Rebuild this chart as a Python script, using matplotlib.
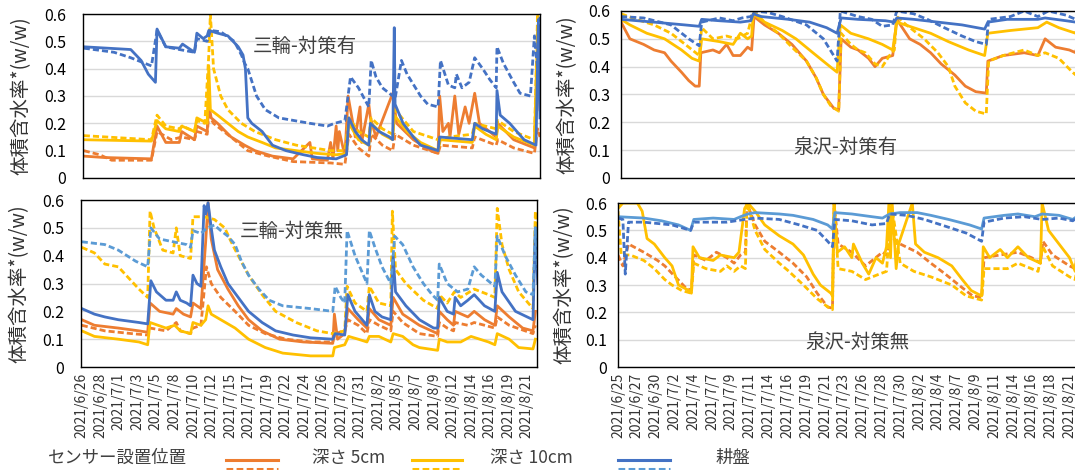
import matplotlib
matplotlib.use("Agg")
import matplotlib.pyplot as plt
from matplotlib.lines import Line2D

plt.rcParams['font.family'] = ['Noto Sans CJK JP', 'DejaVu Sans']

# x = days from first tick label; tick labels every 7/3 day
labels_miwa = ["2021/6/26", "2021/6/28", "2021/7/1", "2021/7/3", "2021/7/5", "2021/7/8",
               "2021/7/10", "2021/7/12", "2021/7/15", "2021/7/17", "2021/7/19", "2021/7/22",
               "2021/7/24", "2021/7/26", "2021/7/29", "2021/7/31", "2021/8/2", "2021/8/5",
               "2021/8/7", "2021/8/9", "2021/8/12", "2021/8/14", "2021/8/16", "2021/8/19",
               "2021/8/21"]
labels_izumi = ["2021/6/25", "2021/6/27", "2021/6/30", "2021/7/2", "2021/7/4", "2021/7/7",
                "2021/7/9", "2021/7/11", "2021/7/14", "2021/7/16", "2021/7/19", "2021/7/21",
                "2021/7/23", "2021/7/26", "2021/7/28", "2021/7/30", "2021/8/2", "2021/8/4",
                "2021/8/7", "2021/8/9", "2021/8/11", "2021/8/14", "2021/8/16", "2021/8/18",
                "2021/8/21"]

# ---- 三輪-対策有 ----
m1_sk_d = [0, 5.9, 7.2, 8.1, 9.0, 9.2, 10.3, 12.0, 12.4, 13.9, 14.2, 15.0, 15.5, 15.7, 16.8, 18.1,
           19.4, 20.0, 20.3, 20.6, 21.1, 22.4, 23.7, 25.4, 27.6, 29.3, 31.7, 33.0, 33.3, 34.1, 34.9,
           35.8, 36.0, 37.1, 38.4, 38.8, 39.0, 39.1, 40.1, 41.4, 42.3, 44.5, 44.7, 48.8, 49.1, 50.1,
           51.8, 51.9, 52.3, 53.5, 55.3, 56.8, 57.1, 57.3]
m1_sk_v = [0.48, 0.47, 0.43, 0.38, 0.35, 0.545, 0.48, 0.475, 0.49, 0.46, 0.53, 0.51, 0.52, 0.54, 0.53, 0.52,
           0.48, 0.45, 0.40, 0.22, 0.20, 0.17, 0.12, 0.10, 0.085, 0.075, 0.07, 0.085, 0.22, 0.17, 0.14,
           0.12, 0.20, 0.17, 0.15, 0.14, 0.55, 0.27, 0.20, 0.15, 0.12, 0.10, 0.15, 0.14, 0.20, 0.18,
           0.16, 0.32, 0.23, 0.20, 0.14, 0.12, 0.58, 0.22]
m1_dk_d = [0, 3.8, 5.9, 8.5, 9.2, 10.3, 12.0, 13.9, 14.2, 15.5, 15.9, 17.2, 18.9, 19.8, 20.2, 20.6,
           21.7, 22.8, 24.5, 28.4, 30.6, 31.5, 32.8, 33.5, 34.5, 35.8, 36.1, 36.7, 37.5, 38.8, 39.1,
           39.9, 40.6, 42.3, 43.2, 44.5, 44.8, 45.8, 46.6, 46.8, 47.5, 48.4, 49.1, 50.1, 51.0, 51.8,
           51.9, 52.7, 54.0, 54.8, 56.1, 56.6, 57.0, 57.3]
m1_dk_v = [0.475, 0.46, 0.44, 0.41, 0.54, 0.48, 0.47, 0.46, 0.51, 0.50, 0.54, 0.535, 0.50, 0.45, 0.42, 0.40,
           0.30, 0.25, 0.22, 0.20, 0.19, 0.20, 0.21, 0.37, 0.33, 0.26, 0.43, 0.37, 0.33, 0.30, 0.29,
           0.43, 0.38, 0.30, 0.27, 0.26, 0.43, 0.34, 0.33, 0.38, 0.33, 0.35, 0.44, 0.40, 0.36, 0.33,
           0.48, 0.42, 0.35, 0.31, 0.30, 0.52, 0.40, 0.59]
m1_s10_d = [0, 8.5, 9.2, 10.3, 12.0, 12.3, 13.9, 14.2, 15.5, 15.7, 15.9, 16.8, 18.1, 19.4, 20.6, 22.4,
            24.1, 26.7, 29.3, 31.7, 33.0, 33.3, 34.5, 35.8, 36.1, 37.5, 38.8, 39.0, 40.6, 42.3, 44.5,
            44.8, 48.8, 49.1, 50.5, 51.8, 52.0, 54.0, 56.6, 57.0, 57.3]
m1_s10_v = [0.14, 0.135, 0.21, 0.18, 0.17, 0.19, 0.17, 0.22, 0.20, 0.41, 0.25, 0.23, 0.20, 0.17, 0.15, 0.13,
            0.11, 0.10, 0.09, 0.085, 0.09, 0.20, 0.14, 0.12, 0.20, 0.16, 0.14, 0.23, 0.17, 0.13, 0.10,
            0.14, 0.13, 0.19, 0.16, 0.14, 0.19, 0.15, 0.12, 0.55, 0.30]
m1_d10_d = [0, 8.5, 9.2, 10.3, 12.0, 12.4, 13.9, 14.2, 15.2, 15.7, 15.9, 16.3, 17.2, 18.1, 19.8, 21.5,
            24.1, 26.7, 31.0, 32.8, 33.3, 34.5, 35.8, 36.1, 37.5, 38.8, 39.1, 41.4, 44.5, 45.8, 48.8,
            49.1, 51.8, 52.0, 54.0, 56.6, 57.0, 57.3]
m1_d10_v = [0.155, 0.14, 0.23, 0.19, 0.18, 0.19, 0.17, 0.21, 0.20, 0.45, 0.60, 0.40, 0.30, 0.25, 0.20, 0.17,
            0.14, 0.12, 0.10, 0.10, 0.22, 0.17, 0.15, 0.22, 0.18, 0.16, 0.25, 0.17, 0.14, 0.15, 0.16,
            0.20, 0.18, 0.21, 0.17, 0.14, 0.60, 0.45]
m1_s5_d = [0, 2.5, 8.5, 9.2, 10.3, 12.0, 12.3, 13.9, 14.2, 15.5, 15.7, 16.0, 16.8, 18.5, 20.2, 21.5,
           23.7, 26.3, 28.4, 28.7, 30.6, 31.0, 31.3, 31.7, 31.9, 32.1, 32.8, 33.2, 34.1, 34.7, 34.9,
           35.8, 36.0, 36.7, 38.8, 39.3, 41.4, 43.6, 44.5, 44.7, 45.1, 45.8, 46.0, 46.6, 47.1, 47.9,
           48.4, 49.1, 49.7, 51.8, 52.0, 54.0, 56.6, 57.0, 57.3]
m1_s5_v = [0.08, 0.075, 0.07, 0.19, 0.13, 0.13, 0.17, 0.14, 0.19, 0.17, 0.27, 0.22, 0.20, 0.15, 0.12, 0.10,
           0.08, 0.07, 0.13, 0.07, 0.065, 0.13, 0.07, 0.19, 0.10, 0.17, 0.08, 0.30, 0.15, 0.26, 0.13,
           0.27, 0.22, 0.15, 0.31, 0.20, 0.14, 0.10, 0.09, 0.30, 0.17, 0.20, 0.15, 0.30, 0.16, 0.26,
           0.20, 0.31, 0.20, 0.15, 0.20, 0.14, 0.11, 0.45, 0.25]
m1_d5_d = [0, 2.0, 3.5, 8.5, 9.2, 11.0, 12.3, 13.9, 14.2, 15.5, 15.7, 16.3, 18.9, 20.6, 23.2, 26.3,
           31.0, 32.8, 33.3, 34.5, 35.8, 36.1, 37.5, 38.8, 39.1, 41.4, 44.5, 44.8, 48.8, 49.1, 51.8,
           52.0, 54.0, 56.6, 57.0, 57.3]
m1_d5_v = [0.10, 0.085, 0.065, 0.065, 0.17, 0.14, 0.15, 0.14, 0.17, 0.16, 0.23, 0.20, 0.14, 0.10, 0.08, 0.06,
           0.055, 0.05, 0.16, 0.11, 0.08, 0.16, 0.12, 0.10, 0.16, 0.12, 0.09, 0.12, 0.11, 0.15, 0.12,
           0.14, 0.11, 0.09, 0.18, 0.15]

# ---- 三輪-対策無 ----
m0_sk_d = [0, 1.6, 2.9, 4.6, 7.2, 8.3, 8.7, 9.4, 10.6, 11.5, 11.9, 12.4, 13.2, 13.7, 14.0, 14.5, 15.0,
           15.4, 15.6, 15.9, 16.3, 16.7, 17.5, 18.4, 19.7, 21.0, 22.7, 24.4, 26.6, 28.8, 31.6, 31.9,
           33.1, 33.5, 34.4, 35.6, 35.9, 36.2, 36.9, 37.8, 38.9, 39.2, 39.5, 40.8, 42.5, 44.3, 44.8,
           45.0, 46.0, 46.8, 47.0, 47.7, 48.6, 49.4, 50.7, 52.0, 52.3, 52.9, 54.6, 56.8, 57.1, 57.4]
m0_sk_v = [0.21, 0.19, 0.18, 0.17, 0.16, 0.155, 0.31, 0.27, 0.24, 0.24, 0.27, 0.24, 0.23, 0.22, 0.33, 0.30, 0.29,
           0.58, 0.55, 0.59, 0.50, 0.42, 0.36, 0.30, 0.25, 0.20, 0.16, 0.13, 0.115, 0.105, 0.10, 0.12,
           0.115, 0.26, 0.20, 0.16, 0.15, 0.26, 0.20, 0.18, 0.17, 0.40, 0.27, 0.22, 0.17, 0.14, 0.14,
           0.25, 0.20, 0.19, 0.25, 0.22, 0.24, 0.26, 0.22, 0.20, 0.34, 0.27, 0.20, 0.17, 0.50, 0.30]
m0_dk_d = [0, 2.9, 4.6, 6.8, 8.3, 8.7, 9.8, 11.5, 13.2, 13.7, 14.0, 15.0, 15.8, 16.7, 17.5, 18.4, 19.3,
           20.1, 21.0, 22.3, 23.6, 25.3, 28.8, 31.6, 31.9, 32.6, 33.1, 33.4, 34.4, 35.6, 35.9, 36.2,
           36.9, 37.8, 38.9, 39.4, 40.4, 41.7, 43.0, 44.1, 44.8, 45.0, 46.0, 47.3, 48.6, 49.4, 50.3,
           52.0, 52.3, 53.3, 54.6, 55.9, 56.8, 57.1, 57.4]
m0_dk_v = [0.45, 0.44, 0.42, 0.38, 0.36, 0.50, 0.46, 0.45, 0.44, 0.43, 0.49, 0.48, 0.50, 0.51, 0.49, 0.47, 0.44,
           0.38, 0.33, 0.28, 0.24, 0.22, 0.21, 0.20, 0.29, 0.25, 0.23, 0.49, 0.40, 0.32, 0.30, 0.49,
           0.43, 0.36, 0.30, 0.47, 0.44, 0.36, 0.30, 0.26, 0.24, 0.37, 0.30, 0.27, 0.28, 0.36, 0.33,
           0.29, 0.47, 0.40, 0.33, 0.27, 0.26, 0.50, 0.35]
m0_s10_d = [0, 1.6, 4.6, 7.2, 8.3, 8.6, 10.6, 11.7, 12.4, 13.7, 14.0, 15.0, 15.6, 15.9, 16.3, 17.5,
            19.3, 21.0, 23.1, 25.3, 28.8, 31.6, 31.8, 33.1, 33.6, 34.8, 35.9, 36.2, 37.4, 38.9, 39.2,
            40.4, 41.7, 42.5, 44.8, 45.0, 46.0, 47.7, 49.0, 51.2, 52.0, 52.3, 53.8, 55.0, 56.8, 57.1]
m0_s10_v = [0.13, 0.11, 0.10, 0.09, 0.08, 0.16, 0.14, 0.15, 0.13, 0.12, 0.16, 0.15, 0.17, 0.22, 0.19, 0.17,
            0.14, 0.10, 0.07, 0.05, 0.04, 0.04, 0.07, 0.08, 0.11, 0.10, 0.09, 0.11, 0.11, 0.09, 0.12,
            0.11, 0.08, 0.07, 0.06, 0.10, 0.09, 0.09, 0.11, 0.09, 0.08, 0.12, 0.10, 0.07, 0.065, 0.10]
m0_d10_d = [0, 1.6, 2.9, 4.6, 5.9, 7.2, 8.3, 8.6, 9.1, 10.2, 11.5, 11.9, 12.4, 13.7, 14.0, 15.4, 16.7,
            18.0, 18.8, 19.7, 21.0, 22.7, 24.4, 27.0, 29.6, 31.6, 33.1, 33.4, 34.4, 35.9, 36.2, 37.4,
            38.9, 39.1, 39.5, 40.8, 43.0, 44.8, 45.0, 46.0, 46.9, 47.7, 49.4, 51.2, 52.0, 52.3, 52.9,
            53.8, 55.0, 56.8, 57.1, 57.4]
m0_d10_v = [0.43, 0.41, 0.37, 0.36, 0.32, 0.28, 0.25, 0.56, 0.50, 0.42, 0.41, 0.50, 0.40, 0.39, 0.54, 0.54, 0.53,
            0.50, 0.45, 0.40, 0.33, 0.26, 0.20, 0.16, 0.13, 0.12, 0.13, 0.29, 0.23, 0.20, 0.29, 0.23,
            0.22, 0.56, 0.35, 0.30, 0.24, 0.21, 0.26, 0.23, 0.27, 0.25, 0.28, 0.26, 0.25, 0.57, 0.44,
            0.35, 0.27, 0.21, 0.56, 0.40]
m0_s5_d = [0, 1.6, 4.6, 7.2, 8.3, 8.6, 9.8, 11.5, 11.9, 12.8, 13.7, 14.0, 15.0, 15.6, 15.9, 16.3, 17.1,
           18.4, 19.7, 21.0, 22.7, 24.9, 27.9, 31.6, 31.8, 32.2, 33.1, 33.5, 34.8, 35.9, 36.2, 37.4,
           38.9, 39.2, 40.4, 42.5, 44.8, 45.0, 46.0, 46.8, 47.0, 48.6, 49.4, 50.7, 52.0, 52.3, 53.8,
           55.5, 56.8, 57.1]
m0_s5_v = [0.17, 0.15, 0.14, 0.13, 0.125, 0.23, 0.20, 0.19, 0.21, 0.19, 0.18, 0.23, 0.21, 0.45, 0.59, 0.46, 0.35,
           0.28, 0.22, 0.17, 0.13, 0.10, 0.09, 0.085, 0.19, 0.10, 0.12, 0.21, 0.17, 0.14, 0.21, 0.17,
           0.15, 0.25, 0.19, 0.15, 0.12, 0.20, 0.17, 0.15, 0.20, 0.18, 0.20, 0.17, 0.15, 0.22, 0.18,
           0.14, 0.13, 0.20]
m0_d5_d = [0, 2.9, 6.3, 8.3, 8.6, 10.6, 11.9, 12.4, 13.7, 14.0, 15.0, 15.7, 16.3, 17.5, 19.3, 21.0,
           23.1, 25.7, 28.8, 31.6, 31.9, 33.1, 33.5, 34.8, 35.9, 36.2, 37.4, 38.9, 39.2, 40.4, 42.5,
           44.8, 45.0, 46.0, 46.8, 47.0, 48.6, 49.4, 52.0, 52.3, 53.8, 56.8, 57.1]
m0_d5_v = [0.15, 0.13, 0.12, 0.115, 0.14, 0.13, 0.16, 0.13, 0.12, 0.14, 0.15, 0.36, 0.30, 0.25, 0.20, 0.15,
           0.12, 0.10, 0.09, 0.09, 0.12, 0.13, 0.17, 0.15, 0.12, 0.17, 0.15, 0.13, 0.20, 0.16, 0.12,
           0.11, 0.16, 0.14, 0.13, 0.16, 0.15, 0.16, 0.14, 0.18, 0.15, 0.12, 0.15]

# ---- 泉沢-対策有 ----
i1_sk_d = [0, 4.1, 7.9, 9.7, 10.0, 12.2, 14.8, 16.1, 16.4, 17.4, 20.8, 23.4, 25.5, 26.8, 27.3, 29.4,
           32.8, 33.9, 34.2, 36.3, 39.3, 42.3, 45.1, 45.5, 47.9, 51.7, 52.6, 55.2, 56.4, 56.9, 57.5]
i1_sk_v = [0.57, 0.56, 0.55, 0.545, 0.57, 0.565, 0.56, 0.565, 0.59, 0.58, 0.57, 0.56, 0.54, 0.52, 0.575, 0.57,
           0.565, 0.56, 0.575, 0.57, 0.56, 0.55, 0.535, 0.56, 0.57, 0.57, 0.575, 0.565, 0.56, 0.58, 0.58]
i1_dk_d = [0, 2.8, 6.2, 8.4, 9.7, 10.0, 12.2, 13.9, 15.0, 16.1, 16.4, 18.2, 20.0, 23.0, 25.1, 26.8,
           27.2, 29.4, 31.1, 32.4, 33.7, 34.2, 36.3, 38.0, 40.1, 42.3, 44.0, 45.3, 45.6, 48.3, 50.0,
           51.7, 53.0, 55.2, 56.4, 56.9, 57.5]
i1_dk_v = [0.58, 0.575, 0.55, 0.50, 0.475, 0.56, 0.575, 0.565, 0.575, 0.58, 0.60, 0.595, 0.58, 0.55, 0.50, 0.42,
           0.60, 0.58, 0.57, 0.545, 0.55, 0.60, 0.59, 0.57, 0.54, 0.51, 0.49, 0.48, 0.57, 0.58, 0.60,
           0.58, 0.60, 0.585, 0.57, 0.60, 0.59]
i1_s10_d = [0, 1.1, 3.2, 5.4, 7.5, 8.8, 9.7, 10.0, 12.2, 13.9, 14.8, 15.7, 16.2, 16.4, 17.8, 20.0,
            21.7, 23.8, 25.5, 26.8, 27.2, 28.5, 30.7, 32.4, 33.7, 34.2, 36.3, 38.4, 40.6, 43.1, 45.1,
            45.5, 48.3, 51.7, 52.8, 54.3, 56.4, 56.9, 57.5]
i1_s10_v = [0.57, 0.55, 0.52, 0.50, 0.46, 0.43, 0.42, 0.50, 0.49, 0.48, 0.52, 0.50, 0.51, 0.59, 0.56, 0.53,
            0.50, 0.45, 0.41, 0.38, 0.55, 0.52, 0.50, 0.48, 0.46, 0.56, 0.54, 0.52, 0.49, 0.46, 0.44,
            0.52, 0.53, 0.54, 0.56, 0.54, 0.52, 0.57, 0.55]
i1_d10_d = [0, 1.9, 4.1, 6.2, 8.4, 9.7, 10.0, 11.4, 13.1, 14.4, 15.7, 16.4, 17.8, 19.5, 21.2, 23.0,
            24.2, 25.1, 26.0, 27.0, 27.3, 28.5, 29.4, 30.3, 31.5, 32.4, 33.3, 33.9, 34.2, 35.4, 37.6,
            39.3, 40.6, 41.4, 42.7, 44.0, 45.3, 45.6, 47.4, 50.0, 51.7, 52.6, 54.3, 56.0, 56.4, 56.7,
            57.5]
i1_d10_v = [0.59, 0.57, 0.55, 0.52, 0.47, 0.44, 0.54, 0.50, 0.51, 0.50, 0.52, 0.60, 0.56, 0.52, 0.47, 0.42,
            0.36, 0.30, 0.26, 0.24, 0.52, 0.48, 0.46, 0.45, 0.41, 0.40, 0.44, 0.46, 0.58, 0.55, 0.50,
            0.45, 0.40, 0.33, 0.27, 0.24, 0.23, 0.42, 0.44, 0.46, 0.44, 0.45, 0.43, 0.38, 0.37, 0.55,
            0.52]
i1_s5_d = [0, 1.1, 2.8, 4.1, 5.4, 6.2, 7.5, 8.4, 9.2, 9.7, 9.9, 11.4, 12.2, 13.1, 13.9, 14.8, 15.7,
           16.2, 16.5, 17.8, 19.5, 21.2, 23.0, 24.2, 25.1, 26.4, 27.0, 27.3, 28.5, 29.4, 30.7, 31.5,
           32.4, 33.7, 34.2, 35.8, 37.1, 38.4, 39.7, 41.4, 42.7, 44.0, 45.3, 45.5, 47.4, 50.0, 51.7,
           52.6, 53.9, 55.6, 56.4, 56.9, 57.5]
i1_s5_v = [0.56, 0.50, 0.48, 0.46, 0.45, 0.42, 0.38, 0.35, 0.33, 0.33, 0.45, 0.46, 0.45, 0.48, 0.44, 0.44, 0.47,
           0.46, 0.58, 0.55, 0.52, 0.48, 0.42, 0.36, 0.30, 0.25, 0.245, 0.50, 0.47, 0.46, 0.43, 0.40,
           0.43, 0.44, 0.57, 0.50, 0.48, 0.45, 0.41, 0.37, 0.33, 0.31, 0.305, 0.42, 0.44, 0.45, 0.44,
           0.50, 0.47, 0.46, 0.45, 0.55, 0.50]

# ---- 泉沢-対策無 ----
i0_sk_d = [0, 3.2, 5.4, 7.5, 9.0, 9.4, 11.8, 14.4, 15.2, 16.1, 17.0, 20.0, 21.7, 24.2, 26.0, 26.6,
           26.9, 29.0, 31.5, 32.8, 33.7, 35.0, 37.1, 38.8, 41.0, 43.6, 45.1, 45.4, 47.9, 49.6, 51.7,
           52.6, 54.7, 56.4, 57.1, 57.5]
i0_sk_v = [0.55, 0.545, 0.535, 0.52, 0.50, 0.54, 0.545, 0.54, 0.55, 0.56, 0.565, 0.56, 0.555, 0.54, 0.52, 0.505,
           0.565, 0.56, 0.55, 0.545, 0.56, 0.565, 0.565, 0.555, 0.54, 0.52, 0.505, 0.545, 0.555, 0.56, 0.55,
           0.56, 0.555, 0.54, 0.555, 0.56]
i0_dk_d = [0, 0.6, 0.9, 1.3, 3.2, 6.7, 9.0, 9.4, 13.5, 15.7, 17.0, 20.0, 22.5, 24.7, 26.0, 26.6, 26.9,
           29.0, 31.5, 33.3, 33.7, 35.8, 38.0, 40.1, 43.2, 45.1, 45.4, 47.9, 50.4, 52.6, 54.7, 56.4,
           57.1, 57.5]
i0_dk_v = [0.545, 0.54, 0.34, 0.53, 0.53, 0.52, 0.50, 0.53, 0.53, 0.54, 0.545, 0.54, 0.52, 0.50, 0.46, 0.44, 0.54,
           0.535, 0.52, 0.525, 0.56, 0.555, 0.54, 0.52, 0.49, 0.46, 0.53, 0.545, 0.55, 0.54, 0.545, 0.535,
           0.55, 0.55]
i0_s10_d = [0, 0.6, 2.4, 3.0, 3.6, 4.5, 5.8, 6.7, 7.5, 8.8, 9.1, 9.3, 10.1, 11.8, 12.7, 14.4, 15.0,
            15.7, 16.1, 17.0, 18.2, 20.0, 21.7, 23.0, 24.2, 25.1, 26.4, 26.6, 26.8, 27.2, 28.1, 29.0,
            29.2, 30.3, 31.1, 32.0, 32.8, 33.3, 33.6, 33.8, 34.0, 34.5, 34.8, 36.5, 36.9, 38.0, 39.7,
            41.4, 42.7, 43.8, 45.1, 45.3, 46.1, 47.4, 48.3, 49.6, 50.9, 52.4, 52.6, 53.4, 54.7, 56.0,
            56.7, 57.1, 57.5]
i0_s10_v = [0.58, 0.60, 0.60, 0.57, 0.47, 0.45, 0.40, 0.37, 0.30, 0.28, 0.27, 0.44, 0.40, 0.39, 0.41, 0.40, 0.42,
            0.58, 0.60, 0.57, 0.52, 0.48, 0.45, 0.41, 0.34, 0.30, 0.27, 0.26, 0.60, 0.42, 0.44, 0.40,
            0.45, 0.38, 0.34, 0.40, 0.38, 0.44, 0.60, 0.40, 0.60, 0.36, 0.45, 0.60, 0.45, 0.42, 0.40,
            0.37, 0.32, 0.28, 0.26, 0.44, 0.40, 0.43, 0.40, 0.44, 0.40, 0.38, 0.60, 0.50, 0.45, 0.40,
            0.35, 0.50, 0.44]
i0_d10_d = [0, 0.4, 1.5, 3.2, 4.5, 5.8, 6.7, 7.9, 9.1, 9.4, 10.9, 12.7, 13.5, 14.4, 15.2, 15.8, 16.0,
            17.0, 18.2, 20.0, 21.2, 23.0, 24.7, 26.0, 26.6, 26.8, 27.3, 29.0, 30.7, 32.4, 33.3, 33.9,
            35.0, 36.7, 38.8, 41.4, 43.2, 45.1, 45.4, 48.3, 49.6, 52.1, 52.7, 53.9, 56.0, 56.7, 57.2,
            57.5]
i0_d10_v = [0.57, 0.41, 0.41, 0.39, 0.36, 0.32, 0.30, 0.28, 0.27, 0.38, 0.36, 0.35, 0.37, 0.35, 0.37, 0.36, 0.60,
            0.50, 0.43, 0.38, 0.35, 0.30, 0.25, 0.22, 0.21, 0.60, 0.36, 0.35, 0.32, 0.34, 0.35, 0.60,
            0.38, 0.35, 0.33, 0.30, 0.26, 0.245, 0.36, 0.36, 0.38, 0.35, 0.44, 0.37, 0.33, 0.32, 0.40,
            0.38]
i0_d5_d = [0, 0.6, 1.3, 3.2, 4.9, 5.8, 7.1, 8.4, 9.1, 9.4, 10.9, 12.2, 13.5, 14.4, 15.2, 15.8, 16.0,
           17.0, 18.2, 20.0, 21.7, 23.4, 24.7, 26.0, 26.6, 26.8, 27.3, 29.0, 30.7, 32.8, 33.3, 33.8,
           35.0, 37.1, 38.8, 40.6, 42.7, 44.0, 45.1, 45.4, 47.4, 49.6, 51.3, 52.4, 52.7, 53.9, 56.0,
           56.7, 57.2, 57.5]
i0_d5_v = [0.41, 0.37, 0.45, 0.42, 0.39, 0.37, 0.33, 0.29, 0.28, 0.41, 0.39, 0.42, 0.40, 0.38, 0.41, 0.42, 0.60,
           0.52, 0.46, 0.42, 0.38, 0.33, 0.27, 0.22, 0.215, 0.60, 0.45, 0.42, 0.37, 0.42, 0.41, 0.48,
           0.45, 0.42, 0.38, 0.34, 0.29, 0.26, 0.255, 0.40, 0.41, 0.42, 0.40, 0.38, 0.46, 0.41, 0.37,
           0.36, 0.45, 0.42]

ORANGE = "#ED7D31"
YELLOW = "#FFC000"
BLUE = "#4472C4"
LBLUE = "#5B9BD5"
LW = 2.0
DASH = (2.2, 1.1)

fig = plt.figure(figsize=(10.75, 4.70), dpi=100)
axes_pos = {
    "tl": [0.0772, 0.6213, 0.4251, 0.3489],
    "bl": [0.0753, 0.2191, 0.4242, 0.3553],
    "tr": [0.5777, 0.6213, 0.4290, 0.3553],
    "br": [0.5749, 0.2191, 0.4290, 0.3489],
}

panels = [
    ("tl", "三輪-対策有", (0.486, 0.80), labels_miwa, False,
     [(m1_s5_d, m1_s5_v, ORANGE, "-"), (m1_d5_d, m1_d5_v, ORANGE, "--"),
      (m1_s10_d, m1_s10_v, YELLOW, "-"), (m1_d10_d, m1_d10_v, YELLOW, "--"),
      (m1_sk_d, m1_sk_v, BLUE, "-"), (m1_dk_d, m1_dk_v, BLUE, "--")]),
    ("bl", "三輪-対策無", (0.463, 0.81), labels_miwa, True,
     [(m0_s5_d, m0_s5_v, ORANGE, "-"), (m0_d5_d, m0_d5_v, ORANGE, "--"),
      (m0_s10_d, m0_s10_v, YELLOW, "-"), (m0_d10_d, m0_d10_v, YELLOW, "--"),
      (m0_sk_d, m0_sk_v, BLUE, "-"), (m0_dk_d, m0_dk_v, LBLUE, "--")]),
    ("tr", "泉沢-対策有", (0.487, 0.18), labels_izumi, False,
     [(i1_s5_d, i1_s5_v, ORANGE, "-"),
      (i1_s10_d, i1_s10_v, YELLOW, "-"), (i1_d10_d, i1_d10_v, YELLOW, "--"),
      (i1_sk_d, i1_sk_v, BLUE, "-"), (i1_dk_d, i1_dk_v, BLUE, "--")]),
    ("br", "泉沢-対策無", (0.52, 0.15), labels_izumi, True,
     [(i0_d5_d, i0_d5_v, ORANGE, "--"),
      (i0_s10_d, i0_s10_v, YELLOW, "-"), (i0_d10_d, i0_d10_v, YELLOW, "--"),
      (i0_sk_d, i0_sk_v, LBLUE, "-"), (i0_dk_d, i0_dk_v, BLUE, "--")]),
]

for key, title, tpos, labels, show_x, series in panels:
    ax = fig.add_axes(axes_pos[key])
    for xs, ys, col, ls in series:
        line, = ax.plot(xs, ys, color=col, lw=LW, solid_joinstyle="round")
        if ls == "--":
            line.set_dashes(DASH)
    left = key[1] == "l"
    ax.set_xlim(-0.1 if left else 0.0, 57.3 if left else 57.2)
    ax.set_ylim(0, 0.6)
    ax.set_yticks([0, 0.1, 0.2, 0.3, 0.4, 0.5, 0.6])
    ax.set_yticklabels(["0", "0.1", "0.2", "0.3", "0.4", "0.5", "0.6"], fontsize=11.5)
    ax.yaxis.grid(True, color="#D9D9D9", lw=1.0)
    ax.set_axisbelow(True)
    ticks = [k * 7 / 3 for k in range(len(labels))]
    ax.set_xticks(ticks)
    if show_x:
        ax.set_xticklabels(labels, rotation=90, fontsize=10, color="#333333")
    else:
        ax.set_xticklabels([])
    ax.tick_params(length=0, pad=4)
    ax.tick_params(axis="y", pad=12 if left else 8)
    for sp in ax.spines.values():
        sp.set_color("black")
        sp.set_linewidth(1.0)
    ax.set_ylabel("体積含水率*(w/w)", fontsize=14, color="#333333")
    ax.yaxis.set_label_coords(-0.112 if left else -0.094, 0.5)
    ax.text(tpos[0], tpos[1], title, transform=ax.transAxes, fontsize=14,
            ha="center", va="center", color="#404040")

# legend row at the bottom
fig.text(48 / 1075, 0.026, "センサー設置位置", fontsize=12.5, va="center", color="#404040")
leg_items = [(226, 278, ORANGE, ORANGE, 312, "深さ 5cm"),
             (412, 462, YELLOW, YELLOW, 490, "深さ 10cm"),
             (618, 670, BLUE, LBLUE, 716, "耕盤")]
for x0, x1, c1, c2, tx, txt in leg_items:
    fig.add_artist(Line2D([x0 / 1075, x1 / 1075], [0.0215, 0.0215], color=c1, lw=2.2,
                          transform=fig.transFigure))
    dl = Line2D([x0 / 1075, x1 / 1075], [0.002, 0.002], color=c2, lw=2.2,
                transform=fig.transFigure)
    dl.set_dashes(DASH)
    fig.add_artist(dl)
    fig.text(tx / 1075, 0.026, txt, fontsize=12.5, va="center", color="#404040")

fig.savefig("out.png", dpi=100)
